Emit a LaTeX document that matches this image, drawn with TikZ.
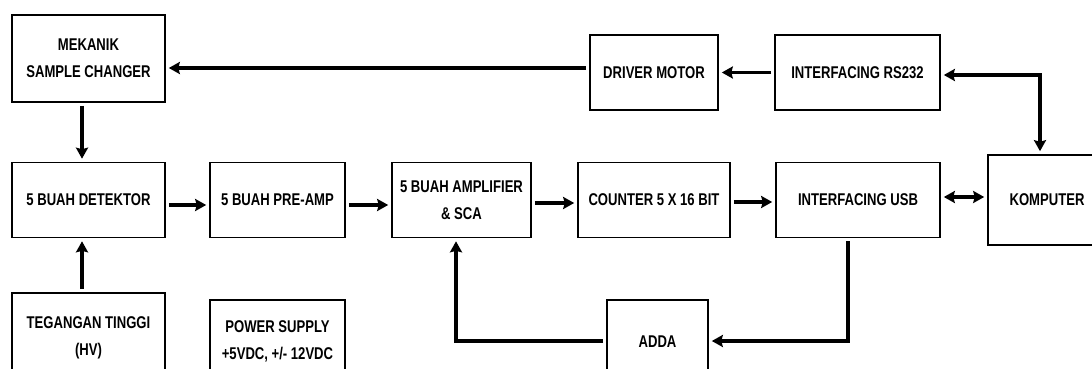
\documentclass[tikz,border=0pt]{standalone}
\usepackage{fontspec}
\setmainfont[FakeStretch=0.77]{Liberation Sans}
\usetikzlibrary{arrows.meta}
\begin{document}
\begin{tikzpicture}[x=1pt,y=-1pt,
  blk/.style={draw, line width=1.6pt, inner sep=0pt, align=center,
    font=\bfseries\fontsize{17}{27}\selectfont},
  con/.style={line width=3.4pt, -{Stealth[length=11pt,width=12pt,inset=1.5pt]}, shorten <=3pt, shorten >=3pt},
  dcon/.style={line width=3.4pt, {Stealth[length=11pt,width=12pt,inset=1.5pt]}-{Stealth[length=11pt,width=12pt,inset=1.5pt]}, shorten <=3pt, shorten >=3pt}]
\useasboundingbox (0,0) rectangle (1092,369);
\clip (0,0) rectangle (1092,369);
% boxes
\node[blk, minimum width=153pt, minimum height=87pt] (mek) at (88.5,58.5) {MEKANIK\\SAMPLE CHANGER};
\node[blk, minimum width=128pt, minimum height=75pt] (drv) at (654,72.5) {DRIVER MOTOR};
\node[blk, minimum width=165pt, minimum height=75pt] (rs) at (857.5,72.5) {INTERFACING RS232};
\node[blk, minimum width=153pt, minimum height=75pt] (det) at (88.5,200) {5 BUAH DETEKTOR};
\node[blk, minimum width=135pt, minimum height=75pt] (pre) at (277.5,200) {5 BUAH PRE-AMP};
\node[blk, minimum width=139pt, minimum height=75pt] (amp) at (461.5,200) {5 BUAH AMPLIFIER\\\& SCA};
\node[blk, minimum width=152pt, minimum height=75pt] (cnt) at (654,200) {COUNTER 5 X 16 BIT};
\node[blk, minimum width=164pt, minimum height=75pt] (usb) at (858,200) {INTERFACING USB};
\node[blk, minimum width=118pt, minimum height=90pt] (komp) at (1047,200) {KOMPUTER};
\node[blk, minimum width=153pt, minimum height=90pt] (teg) at (88.5,338) {TEGANGAN TINGGI\\(HV)};
\node[blk, minimum width=135pt, minimum height=82pt] (pwr) at (277.5,341) {POWER SUPPLY\\+5VDC, +/- 12VDC};
\node[blk, minimum width=101pt, minimum height=84pt] (adda) at (657.5,342) {ADDA};
% connectors
\draw[con] (drv.west |- 0,68) -- (mek.east |- 0,68);
\draw[con] (rs.west) -- (drv.east);
\draw[dcon] (rs.east |- 0,75) -| ([xshift=-7pt]komp.north);
\draw[con] ([xshift=-6.5pt]mek.south) -- ([xshift=-6.5pt]det.north);
\draw[con] ([xshift=-6.5pt]teg.north) -- ([xshift=-6.5pt]det.south);
\draw[con] (det.east |- 0,205) -- (pre.west |- 0,205);
\draw[con] (pre.east |- 0,205) -- (amp.west |- 0,205);
\draw[con] (amp.east |- 0,203) -- (cnt.west |- 0,203);
\draw[con] (cnt.east |- 0,202) -- (usb.west |- 0,202);
\draw[dcon] (usb.east |- 0,197) -- (komp.west |- 0,197);
\draw[con] ([xshift=-10pt]usb.south) |- (adda.east |- 0,341);
\draw[con] (adda.west |- 0,341) -| ([xshift=-5.5pt]amp.south);
\end{tikzpicture}
\end{document}
